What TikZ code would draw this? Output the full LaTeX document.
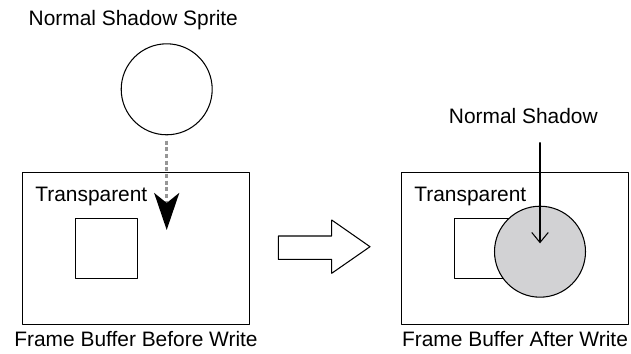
\documentclass[tikz,border=0pt]{standalone}
\usepackage{fontspec}
\setmainfont{Liberation Sans}
\usetikzlibrary{arrows.meta}
\definecolor{shadowgray}{RGB}{210,210,212}
\definecolor{dropgray}{RGB}{150,150,150}

\begin{document}
\begin{tikzpicture}[
		x=0.02cm, y=-0.02cm,
		every node/.style={font=\fontsize{11.9pt}{14pt}\selectfont},
		frame/.style={draw, line width=0.6pt, minimum width=4.53cm, minimum height=3.03cm, inner sep=0pt},
		tile/.style={draw, line width=0.6pt, minimum width=1.23cm, minimum height=1.21cm, inner sep=0pt},
		ball/.style={circle, draw, line width=0.6pt, minimum size=1.82cm, inner sep=0pt},
		txt/.style={anchor=base, inner sep=0pt},
		line cap=round,
		line join=round
		]
		\useasboundingbox (0,0) rectangle (631,354);
		
		% --------------------------------
		% Sprite above the first buffer
		% --------------------------------
		\node[txt] (sprite label) at (133.3,26) {Normal Shadow Sprite};
		\node[ball] (sprite) at (166.7,89.3) {};
		
		% --------------------------------
		% Frame buffer before write
		% --------------------------------
		\node[frame] (before) at (136,248.3) {};
		\node[tile] (before tile) at (106.7,248.3) {};
		\node[txt, anchor=base west] (before transp) at (35,201.7) {Transparent};
		\node[txt] (before caption) at (136,346) {Frame Buffer Before Write};
		
		% --------------------------------
		% Dotted drop of the sprite
		% --------------------------------
		\coordinate (drop) at (166.7,230);
		\draw[dropgray, line width=1.7pt, line cap=butt,
		dash pattern=on 2.3pt off 1.5pt,
		-{Stealth[length=0.74cm, width=0.5cm, inset=0.2cm, black]}]
		([yshift=-3pt]sprite.south) -- (drop);
		
		% --------------------------------
		% Hollow arrow between buffers
		% --------------------------------
		\draw[line width=0.6pt]
		(278.3,236) -- (331.7,236) -- (331.7,220) -- (370,246.7)
		-- (331.7,273.3) -- (331.7,259.3) -- (278.3,259.3) -- cycle;
		
		% --------------------------------
		% Frame buffer after write
		% --------------------------------
		\node[frame] (after) at (515,248.3) {};
		\node[tile] (after tile) at (485.3,248.3) {};
		\node[txt, anchor=base west] (after transp) at (414,201.7) {Transparent};
		\node[txt] (after caption) at (515,346) {Frame Buffer After Write};
		
		% --------------------------------
		% Shadow written on top
		% --------------------------------
		\node[ball, fill=shadowgray] (shadow) at (540,251.7) {};
		\node[txt] (shadow label) at (523.3,123.3) {Normal Shadow};
		\coordinate (hit top) at (540,142.7);
		\coordinate (hit) at (540,243.3);
		\draw[line width=0.6pt, -{Straight Barb[length=0.2cm, width=0.33cm]}]
		(hit top) -- (hit);
		
	\end{tikzpicture}
\end{document}
